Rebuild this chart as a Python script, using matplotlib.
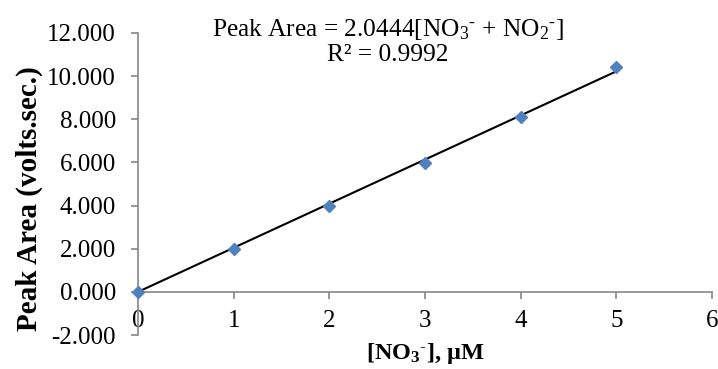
import numpy as np
import matplotlib.pyplot as plt

# calibration standards
conc = [0, 1, 2, 3, 4, 5]
peak_area = [0.0, 1.98, 4.0, 5.99, 8.11, 10.43]
slope = 2.0444
r_squared = 0.9992

x_ticks = [0, 1, 2, 3, 4, 5, 6]
y_ticks = [-2, 0, 2, 4, 6, 8, 10, 12]

plt.rcParams['font.family'] = ['Liberation Serif', 'DejaVu Serif']
plt.rcParams['mathtext.fontset'] = 'custom'
plt.rcParams['mathtext.rm'] = 'Liberation Serif'
plt.rcParams['mathtext.it'] = 'Liberation Serif'
plt.rcParams['mathtext.bf'] = 'Liberation Serif:bold'

fig = plt.figure(figsize=(7.18, 3.69), dpi=100)
ax = fig.add_axes([0.1922, 0.0921, 0.7994, 0.8185])

axis_grey = '#868686'

# trendline forced through the origin
fit_x = np.array([conc[0], conc[-1]])
ax.plot(fit_x, slope * fit_x, color='black', lw=1.5, zorder=2)
ax.plot(conc, peak_area, linestyle='none', marker='D', markersize=6,
        color='#4F81BD', zorder=3, clip_on=False)

ax.set_xlim(0, 6)
ax.set_ylim(-2, 12)
ax.set_xticks(x_ticks)
ax.set_yticks(y_ticks)
ax.set_xticklabels([str(v) for v in x_ticks])
ax.set_yticklabels([f"{v:.3f}" for v in y_ticks])

ax.spines['top'].set_visible(False)
ax.spines['right'].set_visible(False)
ax.spines['bottom'].set_position(('data', 0))
for side in ('left', 'bottom'):
    ax.spines[side].set_color(axis_grey)
    ax.spines[side].set_linewidth(1.2)

ax.tick_params(axis='both', direction='out', length=5, width=1.2,
               color=axis_grey, labelsize=18)
ax.tick_params(axis='x', pad=8)
ax.tick_params(axis='y', pad=11)

ax.set_xlabel(r'[NO$_\mathbf{3}{}^{\mathbf{\text{-}}}$], µM', fontsize=17.5,
              fontweight='bold', labelpad=0)
ax.xaxis.set_label_coords(0.5, -0.02)
ax.set_ylabel('Peak Area (volts.sec.)', fontsize=21, fontweight='bold')
ax.yaxis.set_label_coords(-0.166, 0.45)

eq = (f"Peak Area = {slope:.4f}[NO$_3{{}}^{{\\text{{-}}}}$ + NO$_2{{}}^{{\\text{{-}}}}$]\n"
      f"R² = {r_squared:.4f}")
fig.text(0.540, 0.955, eq, ha='center', va='top', fontsize=18.3,
         linespacing=1.12)

fig.savefig('out.png', dpi=100)
